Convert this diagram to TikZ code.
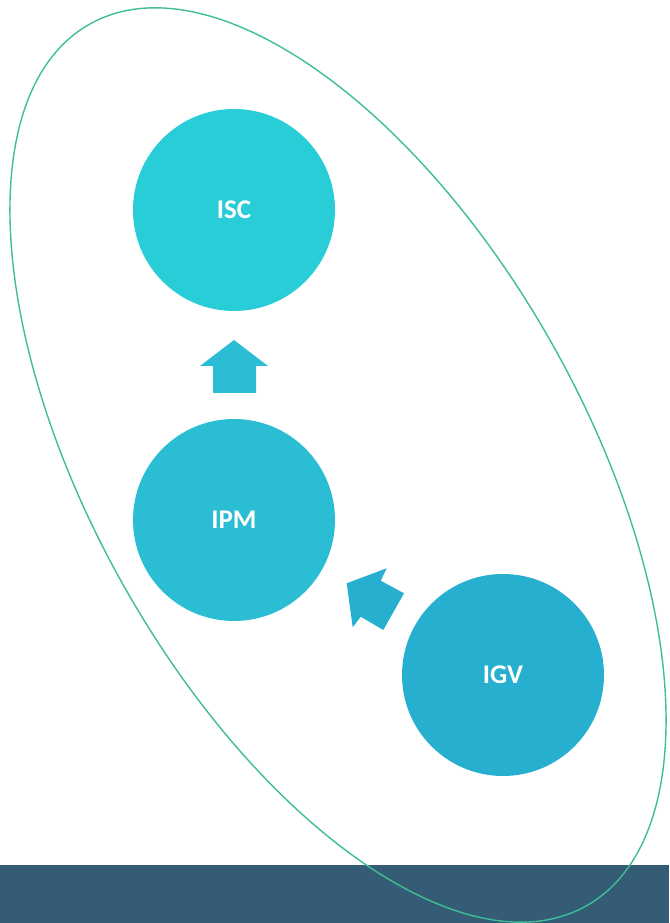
\documentclass[tikz,border=0pt]{standalone}
\usepackage{fontspec}
\setmainfont{Carlito}
\definecolor{barcol}{HTML}{345C74}
\definecolor{ellcol}{HTML}{3EBE96}
\definecolor{isccol}{HTML}{29CDD7}
\definecolor{ipmcol}{HTML}{2ABDD4}
\definecolor{igvcol}{HTML}{27AFD0}
\begin{document}
\begin{tikzpicture}[x=1pt,y=1pt,
  bubble/.style={circle,minimum size=202pt,inner sep=0pt,text=white,font=\fontsize{27}{32}\selectfont\bfseries}]
\useasboundingbox (0,0) rectangle (669,923);
\fill[barcol] (0,0) rectangle (669,58);
\node[bubble,fill=isccol] (isc) at (234,713) {ISC};
\node[bubble,fill=ipmcol] (ipm) at (234,403) {IPM};
\node[bubble,fill=igvcol] (igv) at (503,248) {IGV};
\fill[ipmcol] (234,583) -- (268,557) -- (256,557) -- (256,530) -- (213,530) -- (213,557) -- (200,557) -- cycle;
\fill[igvcol] (346.7,339.7) -- (386.7,354.7) -- (380.7,342.3) -- (404,329.7) -- (383.3,293) -- (360.7,306.3) -- (352.7,295.7) -- cycle;
\draw[ellcol,line width=1.4pt,rotate around={-60.6:(338,458)}] (338,458) ellipse [x radius=506, y radius=246];
\end{tikzpicture}
\end{document}
